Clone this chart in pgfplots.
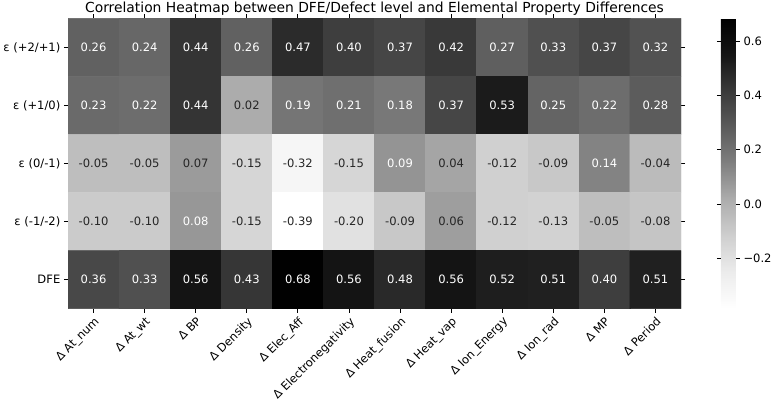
\documentclass[border=0pt]{standalone}
\usepackage{pgfplots}
\pgfplotsset{compat=1.18}
\usepackage{pgfplotstable}
\usepackage{fontspec}
\setmainfont{DejaVu Sans}
\definecolor{dk}{RGB}{38,38,38}
\protected\def\W{\color{white}}
\protected\def\K{\color{dk}}
\pgfplotsset{colormap={greys}{rgb255=(255,255,255) rgb255=(236,236,236) rgb255=(207,207,207) rgb255=(173,173,173) rgb255=(128,128,128) rgb255=(91,91,91) rgb255=(58,58,58) rgb255=(21,21,21) rgb255=(0,0,0)}}
\pgfplotstableread{
x y c lab
0 0 0.26 \W0.26
1 0 0.24 \W0.24
2 0 0.44 \W0.44
3 0 0.26 \W0.26
4 0 0.47 \W0.47
5 0 0.40 \W0.40
6 0 0.37 \W0.37
7 0 0.42 \W0.42
8 0 0.27 \W0.27
9 0 0.33 \W0.33
10 0 0.37 \W0.37
11 0 0.32 \W0.32
0 1 0.23 \W0.23
1 1 0.22 \W0.22
2 1 0.44 \W0.44
3 1 0.02 \K0.02
4 1 0.19 \W0.19
5 1 0.21 \W0.21
6 1 0.18 \W0.18
7 1 0.37 \W0.37
8 1 0.53 \W0.53
9 1 0.25 \W0.25
10 1 0.22 \W0.22
11 1 0.28 \W0.28
0 2 -0.05 \K-0.05
1 2 -0.05 \K-0.05
2 2 0.07 \K0.07
3 2 -0.15 \K-0.15
4 2 -0.32 \K-0.32
5 2 -0.15 \K-0.15
6 2 0.09 \W0.09
7 2 0.04 \K0.04
8 2 -0.12 \K-0.12
9 2 -0.09 \K-0.09
10 2 0.14 \W0.14
11 2 -0.04 \K-0.04
0 3 -0.10 \K-0.10
1 3 -0.10 \K-0.10
2 3 0.08 \W0.08
3 3 -0.15 \K-0.15
4 3 -0.39 \K-0.39
5 3 -0.20 \K-0.20
6 3 -0.09 \K-0.09
7 3 0.06 \K0.06
8 3 -0.12 \K-0.12
9 3 -0.13 \K-0.13
10 3 -0.05 \K-0.05
11 3 -0.08 \K-0.08
0 4 0.36 \W0.36
1 4 0.33 \W0.33
2 4 0.56 \W0.56
3 4 0.43 \W0.43
4 4 0.68 \W0.68
5 4 0.56 \W0.56
6 4 0.48 \W0.48
7 4 0.56 \W0.56
8 4 0.52 \W0.52
9 4 0.51 \W0.51
10 4 0.40 \W0.40
11 4 0.51 \W0.51
}\datatable
\begin{document}
\begin{tikzpicture}
\begin{axis}[
  scale only axis,
  width=531pt, height=251.4pt,
  xmin=-0.5, xmax=11.5, ymin=-0.5, ymax=4.5,
  y dir=reverse,
  enlargelimits=false,
  axis line style={draw=none},
  tick align=outside,
  major tick length=3.5pt,
  tick style={black, line width=0.8pt},
  xtick={0,...,11}, ytick={0,...,4},
  xticklabels={Δ At\_num, Δ At\_wt, Δ BP, Δ Density, Δ Elec\_Aff, Δ Electronegativity, Δ Heat\_fusion, Δ Heat\_vap, Δ Ion\_Energy, Δ Ion\_rad, Δ MP, Δ Period},
  yticklabels={ε (+2/+1), ε (+1/0), ε (0/-1), ε (-1/-2), DFE},
  xticklabel style={rotate=45, anchor=north east, inner sep=2pt},
  yticklabel style={inner sep=3pt},
  title={Correlation Heatmap between DFE/Defect level and Elemental Property Differences},
  title style={font=\fontsize{12}{14}\selectfont, inner sep=1.5pt, yshift=-4.9pt},
  colormap name=greys,
  point meta min=-0.385, point meta max=0.684,
  colorbar,
  colorbar style={
    width=12.9pt,
    at={(parent axis.north east)}, anchor=north west, xshift=26pt,
    ytick={-0.2,0,0.2,0.4,0.6},
    yticklabels={−0.2,0.0,0.2,0.4,0.6},
    axis line style={draw=none},
    tick align=outside,
    major tick length=3.5pt,
    tick style={black, line width=0.8pt},
    yticklabel style={inner sep=3pt},
  },
]
\addplot[matrix plot*, mesh/cols=12, point meta=explicit] table[x=x, y=y, meta=c] {\datatable};
\addplot[only marks, mark=none, point meta=explicit symbolic,
  nodes near coords={\pgfplotspointmeta},
  every node near coord/.append style={anchor=center, font=\fontsize{10}{12}\selectfont}]
  table[x=x, y=y, meta=lab] {\datatable};
\end{axis}
\end{tikzpicture}
\end{document}
